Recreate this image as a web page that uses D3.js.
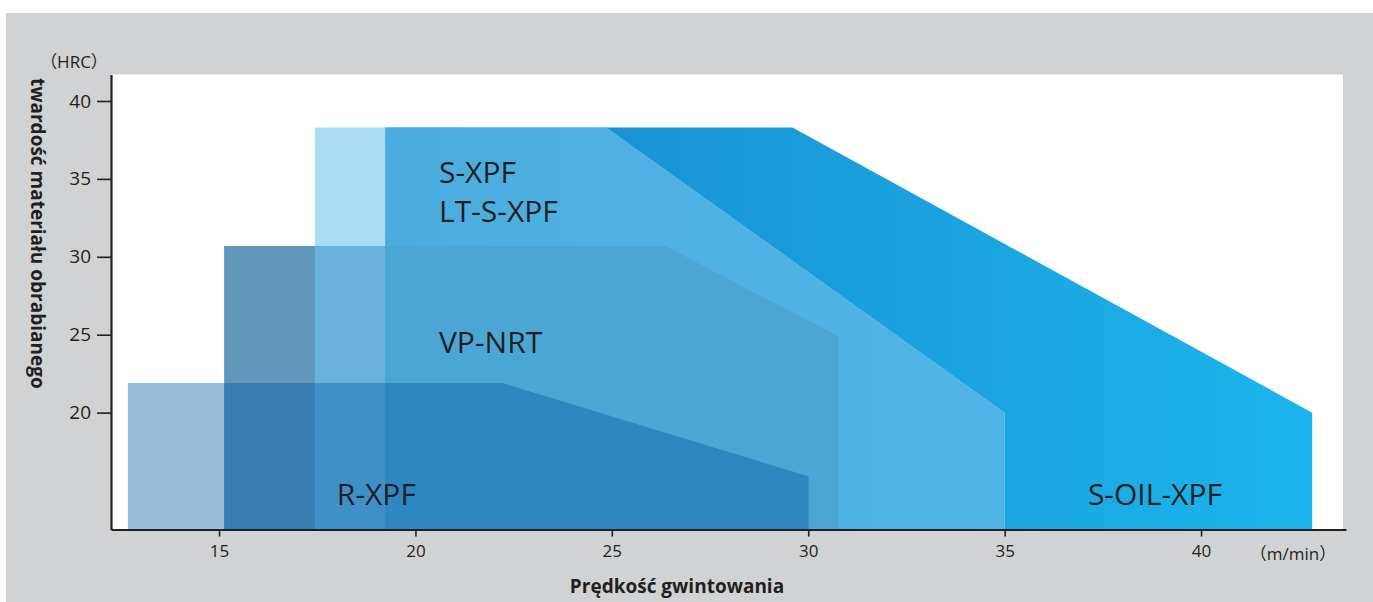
<!DOCTYPE html>
<html>
<head>
<meta charset="utf-8">
<script src="https://cdn.jsdelivr.net/npm/d3@7"></script>
<style>
  body { margin: 0; background: #fff; }
</style>
</head>
<body>
<div id="chart"></div>
<script>
// top outline of each tool's range: [speed m/min, hardness HRC]
const sOilXpf = [[19.23, 38.3], [29.6, 38.3], [42.83, 20]];
const ltSXpf  = [[17.44, 38.3], [24.85, 38.3], [35, 20]];
const sXpf    = [[19.23, 38.3], [24.85, 38.3], [35, 20]];
const vpNrt   = [[15.13, 30.7], [26.35, 30.7], [30.78, 24.87]];
const rXpf    = [[12.68, 21.9], [22.2, 21.9], [30, 15.9]];

const speedTicks = [15, 20, 25, 30, 35, 40];
const hardnessTicks = [20, 25, 30, 35, 40];

// label anchors (left edge, middle) in data units
const labelNames = ["S-XPF", "LT-S-XPF", "VP-NRT", "R-XPF", "S-OIL-XPF"];
const labelSpeed = [20.6, 20.6, 20.6, 18.0, 37.12];
const labelHard  = [35.45, 32.95, 24.52, 14.78, 14.76];

const width = 1373;
const height = 602;
const ink = "#231f20";
const font = "'Open Sans', 'Noto Sans CJK JP', sans-serif";

const x = d3.scaleLinear().domain([12.25, 43.69]).range([111, 1346]);
const y = d3.scaleLinear().domain([12.5, 41.7]).range([529.5, 74.5]);
const floor = y.domain()[0];

const svg = d3.select("#chart")
  .append("svg")
  .attr("width", width)
  .attr("height", height)
  .attr("viewBox", [0, 0, width, height]);

// grey panel + white plot area
svg.append("rect")
  .attr("x", 6).attr("y", 13)
  .attr("width", width - 6).attr("height", height - 13)
  .attr("fill", "#d1d2d4");

svg.append("rect")
  .attr("x", x.range()[0]).attr("y", y.range()[1])
  .attr("width", 1343 - x.range()[0])
  .attr("height", y.range()[0] - y.range()[1])
  .attr("fill", "#fff");

const area = d3.area()
  .x(d => x(d[0]))
  .y0(y(floor))
  .y1(d => y(d[1]));

const series = [
  { id: "oil", values: sOilXpf, fill: "url(#gradOil)" },
  { id: "lt", values: ltSXpf, fill: "#aadcf4" },
  { id: "s", values: sXpf, fill: "url(#gradS)" },
  { id: "vp", values: vpNrt, fill: "#5f96b9" },
  { id: "r", values: rXpf, fill: "#9bbddc" }
];

// colours where ranges overlap: [drawn shape, clipped by]
const overlaps = [
  { shape: "vp", clip: "lt", fill: "#68b2db" },
  { shape: "vp", clip: "s", fill: "#4ba5d5" },
  { shape: "r", clip: "vp", fill: "#377fb0" },
  { shape: "r", clip: "lt", fill: "#3f90c8" },
  { shape: "r", clip: "s", fill: "#2e87c0" }
];

const defs = svg.append("defs");

const gradOil = defs.append("linearGradient")
  .attr("id", "gradOil")
  .attr("gradientUnits", "userSpaceOnUse")
  .attr("x1", x(19.23)).attr("x2", x(42.83))
  .attr("y1", 0).attr("y2", 0);
gradOil.append("stop").attr("offset", 0).attr("stop-color", "#1888cb");
gradOil.append("stop").attr("offset", 1).attr("stop-color", "#1cb4ec");

const gradS = defs.append("linearGradient")
  .attr("id", "gradS")
  .attr("gradientUnits", "userSpaceOnUse")
  .attr("x1", x(19.23)).attr("x2", x(35))
  .attr("y1", 0).attr("y2", 0);
gradS.append("stop").attr("offset", 0).attr("stop-color", "#4cace0");
gradS.append("stop").attr("offset", 1).attr("stop-color", "#50b5e6");

series.forEach(s => {
  defs.append("clipPath")
    .attr("id", "clip-" + s.id)
    .append("path")
    .attr("d", area(s.values));
});

svg.append("g")
  .selectAll("path")
  .data(series)
  .join("path")
  .attr("d", d => area(d.values))
  .attr("fill", d => d.fill);

const byId = Object.fromEntries(series.map(s => [s.id, s]));

svg.append("g")
  .selectAll("g")
  .data(overlaps)
  .join("g")
  .attr("clip-path", d => `url(#clip-${d.clip})`)
  .append("path")
  .attr("d", d => area(byId[d.shape].values))
  .attr("fill", d => d.fill);

// series labels
svg.append("g")
  .selectAll("text")
  .data(labelNames)
  .join("text")
  .attr("x", (d, i) => x(labelSpeed[i]))
  .attr("y", (d, i) => y(labelHard[i]))
  .attr("dy", "0.36em")
  .attr("font-family", font)
  .attr("font-size", "30px")
  .attr("fill", ink)
  .text(d => d);

// axes
const yAxis = svg.append("g")
  .attr("transform", `translate(${x.range()[0]},0)`)
  .call(d3.axisLeft(y).tickValues(hardnessTicks).tickSize(14).tickSizeOuter(0).tickPadding(6));

const xAxis = svg.append("g")
  .attr("transform", `translate(0,${y.range()[0]})`)
  .call(d3.axisBottom(x).tickValues(speedTicks).tickSize(7).tickSizeOuter(0).tickPadding(8));

[yAxis, xAxis].forEach(a => {
  a.select(".domain").attr("stroke", ink).attr("stroke-width", 2.2);
  a.selectAll(".tick line").attr("stroke", ink).attr("stroke-width", 1.6);
  a.selectAll(".tick text").attr("fill", ink).attr("font-family", font);
});
yAxis.selectAll(".tick text").attr("font-size", "19px");
xAxis.selectAll(".tick text").attr("font-size", "17px");

// units
svg.append("text")
  .attr("x", 74).attr("y", 62)
  .attr("dy", "0.35em")
  .attr("text-anchor", "middle")
  .attr("font-family", font)
  .attr("font-size", "17px")
  .attr("fill", ink)
  .text("（HRC）");

svg.append("text")
  .attr("x", 1293).attr("y", 554)
  .attr("dy", "0.35em")
  .attr("text-anchor", "middle")
  .attr("font-family", font)
  .attr("font-size", "17px")
  .attr("fill", ink)
  .text("（m/min）");

// axis titles
svg.append("text")
  .attr("transform", "translate(31,78) rotate(90)")
  .attr("text-anchor", "start")
  .attr("font-family", font)
  .attr("font-weight", "bold")
  .attr("font-size", "19px")
  .attr("fill", ink)
  .text("twardość materiału obrabianego");

svg.append("text")
  .attr("x", 677).attr("y", 593)
  .attr("text-anchor", "middle")
  .attr("font-family", font)
  .attr("font-weight", "bold")
  .attr("font-size", "19px")
  .attr("fill", ink)
  .text("Prędkość gwintowania");
</script>
</body>
</html>
